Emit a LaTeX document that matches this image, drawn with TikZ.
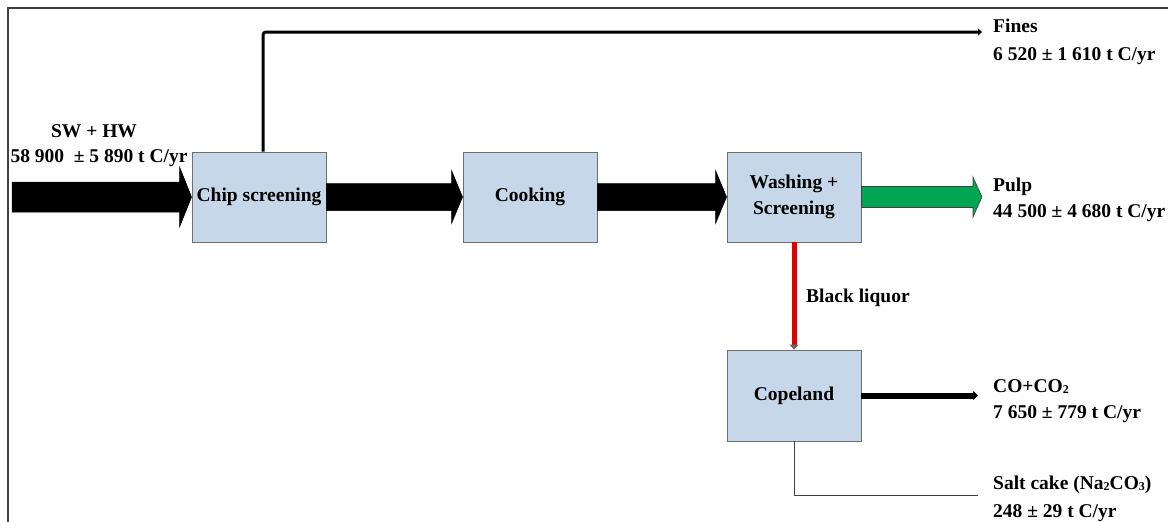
\documentclass[tikz,border=0pt]{standalone}
\usepackage{fontspec}
\setmainfont{Liberation Serif}
\usetikzlibrary{arrows.meta,calc}
\definecolor{boxfill}{HTML}{C5D7E9}
\definecolor{boxline}{HTML}{6E6E6E}
\definecolor{pulpgreen}{HTML}{00A651}
\definecolor{liquorred}{HTML}{E00000}
\definecolor{framegray}{HTML}{404040}
% block arrow: style, start, end, half body, half head, head length
\newcommand\fatflow[6]{%
  \filldraw[#1] let \p1=(#2), \p2=(#3) in
    (\x1,\y1+#4) -- (\x2-#6,\y1+#4) -- (\x2-#6,\y1+#5) -- (\x2,\y1)
    -- (\x2-#6,\y1-#5) -- (\x2-#6,\y1-#4) -- (\x1,\y1-#4) -- cycle;}
\newcommand\chemsub[1]{\raisebox{-1pt}{\fontsize{12}{12}\selectfont #1}}
\begin{document}
\begin{tikzpicture}[x=1pt,y=-1pt,
  every node/.style={font=\fontsize{19.5}{26}\selectfont\bfseries, inner sep=0pt},
  unit/.style={draw=boxline, line width=0.9pt, fill=boxfill,
    minimum width=134pt, minimum height=90pt, align=center},
  fat/.style={fill=black, draw=black, line width=0.5pt},
  pulpflow/.style={fill=pulpgreen, draw=black!75, line width=0.6pt},
  thinline/.style={draw=framegray, line width=1pt},
  label/.style={anchor=base west},
]
\useasboundingbox (0,0) rectangle (1168,522);
% outer frame (top and left edges)
\draw[framegray, line width=1.5pt] (8,522) -- (8,8) -- (1168,8);

% process units
\node[unit] (chip) at (259,197) {Chip screening};
\node[unit] (cook) at (530,197) {Cooking};
\node[unit] (wash) at (794,197) {Washing +\\Screening};
\node[unit, minimum height=91pt] (cope) at (794,395.5) {Copeland};

% free ends of the flows
\coordinate (src) at (12,197);
\coordinate (pulpend) at (982,197);
\coordinate (finesend) at (982,32);
\coordinate (coend) at (978,395.5);
\coordinate (saltend) at (978,495);

% main wood flow
\fatflow{fat}{src}{chip.west}{15pt}{30pt}{12pt}
\fatflow{fat}{chip.east}{cook.west}{13.5pt}{26.5pt}{11pt}
\fatflow{fat}{cook.east}{wash.west}{13.5pt}{26.5pt}{11pt}
\fatflow{pulpflow}{wash.east}{pulpend}{10.5pt}{20pt}{9pt}

% side streams
\draw[line width=3pt, rounded corners=3pt, -{Triangle[length=4pt,width=7pt]}]
  ([xshift=4pt]chip.north) |- (finesend);
\draw[liquorred, line width=5pt, -{Triangle[length=5pt,width=9pt,color=black!60]}]
  (wash.south) -- (cope.north);
\draw[line width=6pt, -{Triangle[length=5pt,width=9pt]}] (cope.east) -- (coend);
\draw[thinline] (cope.south) |- (saltend);

% stream labels
\node[anchor=base] (inname) at (94,137) {SW + HW};
\node[anchor=base] (inval) at (99,162) {58 900 \ ± 5 890 t C/yr};
\node[label] (finesname) at (993,32) {Fines};
\node[label] (finesval) at (993,60) {6 520 ± 1 610 t C/yr};
\node[label] (pulpname) at (993,191) {Pulp};
\node[label] (pulpval) at (993,217) {44 500 ± 4 680 t C/yr};
\node[label] (liquor) at (806,302) {Black liquor};
\node[label] (coname) at (993,392) {CO+CO\chemsub{2}};
\node[label] (coval) at (993,418) {7 650 ± 779 t C/yr};
\node[label] (saltname) at (993,489) {Salt cake (Na\chemsub{2}CO\chemsub{3})};
\node[label] (saltval) at (993,517) {248 ± 29 t C/yr};
\end{tikzpicture}
\end{document}
